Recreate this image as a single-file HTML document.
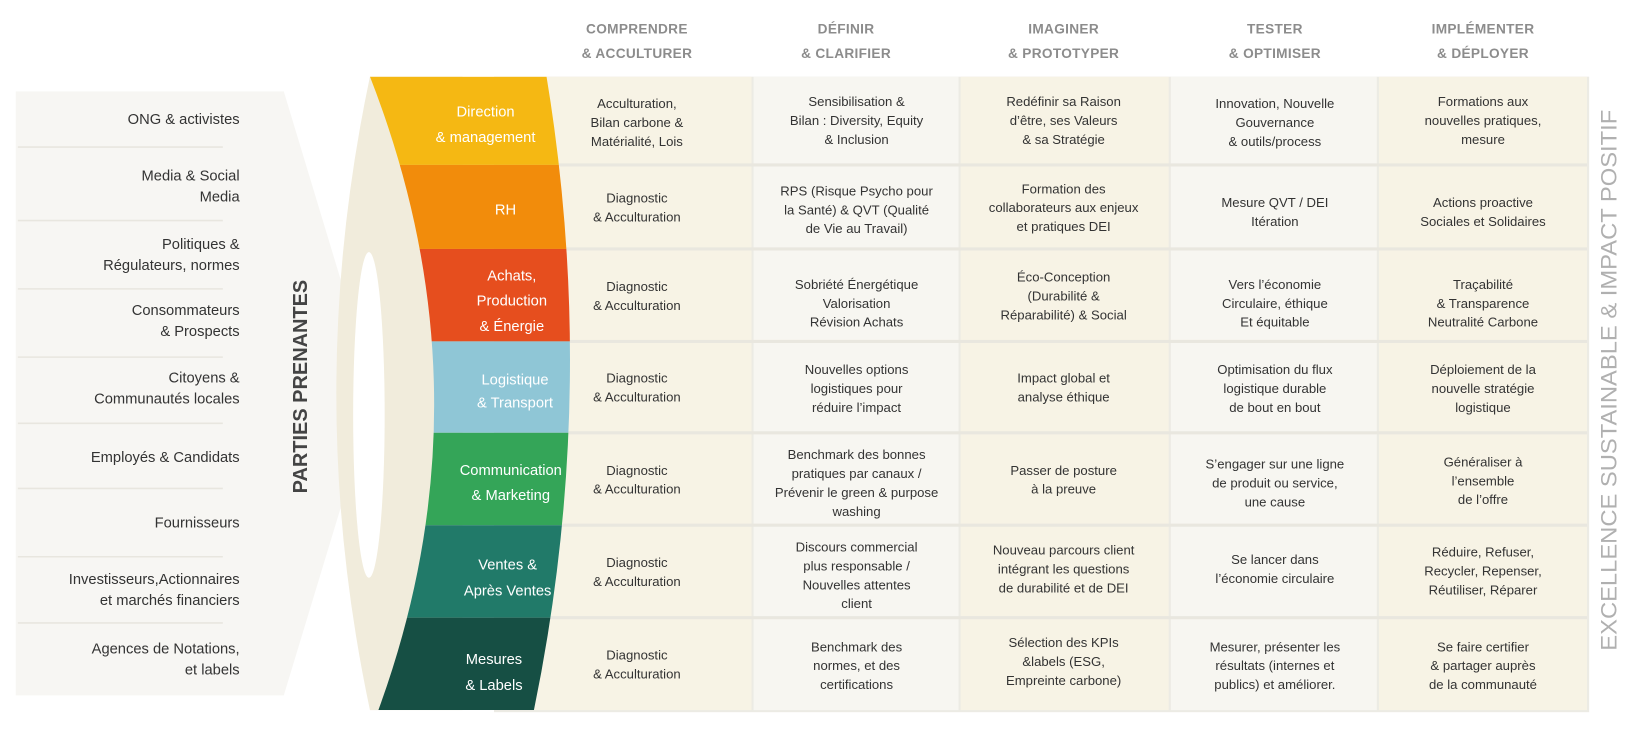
<!DOCTYPE html>
<html><head><meta charset="utf-8"><style>
html,body{margin:0;padding:0;background:#fff;}
svg{display:block}
text{font-family:"Liberation Sans",sans-serif;}
.h{font-size:13px;font-weight:bold;fill:#8c8c8c;text-anchor:middle;letter-spacing:.3px}
.c{font-size:12.5px;fill:#333;text-anchor:middle}
.l{font-size:14px;fill:#333;text-anchor:end}
.b{font-size:14px;fill:#fff;text-anchor:middle}
</style></head><body>
<svg width="1648" height="729" viewBox="0 0 1568 694" preserveAspectRatio="none" xmlns="http://www.w3.org/2000/svg">
<text class="h" x="606" y="32">COMPRENDRE<tspan x="606" dy="23">&amp; ACCULTURER</tspan></text>
<text class="h" x="805" y="32">DÉFINIR<tspan x="805" dy="23">&amp; CLARIFIER</tspan></text>
<text class="h" x="1012" y="32">IMAGINER<tspan x="1012" dy="23">&amp; PROTOTYPER</tspan></text>
<text class="h" x="1213" y="32">TESTER<tspan x="1213" dy="23">&amp; OPTIMISER</tspan></text>
<text class="h" x="1411" y="32">IMPLÉMENTER<tspan x="1411" dy="23">&amp; DÉPLOYER</tspan></text>

<g>
<rect x="470" y="73" width="1042" height="605" fill="#ecebe4"/>
<rect x="470" y="73" width="245" height="603" fill="#f7f3e5"/>
<rect x="717" y="73" width="195" height="603" fill="#f7f6f1"/>
<rect x="914" y="73" width="198" height="603" fill="#f7f3e5"/>
<rect x="1114" y="73" width="196" height="603" fill="#f7f6f1"/>
<rect x="1312" y="73" width="198" height="603" fill="#f7f3e5"/>
<g stroke="#e9e7df" stroke-width="3">
<line x1="470" y1="157" x2="1510" y2="157"/><line x1="470" y1="237" x2="1510" y2="237"/>
<line x1="470" y1="325" x2="1510" y2="325"/><line x1="470" y1="412" x2="1510" y2="412"/>
<line x1="470" y1="500" x2="1510" y2="500"/><line x1="470" y1="588" x2="1510" y2="588"/>
</g>
</g>

<path d="M15,87 L270,87 L357,375 L270,662 L15,662 Z" fill="#f7f6f3"/>
<g stroke="#e8e6df" stroke-width="1.5">
<line x1="17" y1="140" x2="212" y2="140"/><line x1="17" y1="210" x2="212" y2="210"/>
<line x1="17" y1="275" x2="212" y2="275"/><line x1="17" y1="340" x2="212" y2="340"/>
<line x1="17" y1="403" x2="212" y2="403"/><line x1="17" y1="465" x2="212" y2="465"/>
<line x1="17" y1="530" x2="212" y2="530"/><line x1="17" y1="593" x2="212" y2="593"/>
</g>
<text class="l" x="228" y="118">ONG &amp; activistes</text>
<text class="l" x="228" y="172">Media &amp; Social<tspan x="228" dy="20">Media</tspan></text>
<text class="l" x="228" y="237">Politiques &amp;<tspan x="228" dy="20">Régulateurs, normes</tspan></text>
<text class="l" x="228" y="300">Consommateurs<tspan x="228" dy="20">&amp; Prospects</tspan></text>
<text class="l" x="228" y="364">Citoyens &amp;<tspan x="228" dy="20">Communautés locales</tspan></text>
<text class="l" x="228" y="440">Employés &amp; Candidats</text>
<text class="l" x="228" y="502">Fournisseurs</text>
<text class="l" x="228" y="556">Investisseurs,Actionnaires<tspan x="228" dy="20">et marchés financiers</tspan></text>
<text class="l" x="228" y="622">Agences de Notations,<tspan x="228" dy="20">et labels</tspan></text>
<text transform="translate(292,368) rotate(-90)" text-anchor="middle" font-size="19" font-weight="bold" fill="#444" style="font-family:'Liberation Sans',sans-serif">PARTIES PRENANTES</text>

<path d="M352,73 Q288,375 352,676 L440,676 L440,73 Z" fill="#f1ecdc"/>
<ellipse cx="351" cy="395" rx="15" ry="155" fill="#fff"/>

<defs><clipPath id="band"><path d="M352,73 L520,73 Q570,375 508,676 L360,676 Q470,375 352,73 Z"/></clipPath></defs>
<g clip-path="url(#band)">
<rect x="340" y="73" width="250" height="84" fill="#f5b813"/>
<rect x="340" y="157" width="250" height="80" fill="#f28c0b"/>
<rect x="340" y="237" width="250" height="88" fill="#e64e1e"/>
<rect x="340" y="325" width="250" height="87" fill="#8fc6d6"/>
<rect x="340" y="412" width="250" height="88" fill="#34a558"/>
<rect x="340" y="500" width="250" height="88" fill="#217a69"/>
<rect x="340" y="588" width="250" height="88" fill="#164f44"/>
</g>
<text class="b" x="462" y="111">Direction<tspan x="462" dy="24">&amp; management</tspan></text>
<text class="b" x="481" y="204">RH</text>
<text class="b" x="487" y="267">Achats,<tspan x="487" dy="24">Production</tspan><tspan x="487" dy="24">&amp; Énergie</tspan></text>
<text class="b" x="490" y="366">Logistique<tspan x="490" dy="22">&amp; Transport</tspan></text>
<text class="b" x="486" y="452">Communication<tspan x="486" dy="24">&amp; Marketing</tspan></text>
<text class="b" x="483" y="542">Ventes &amp;<tspan x="483" dy="25">Après Ventes</tspan></text>
<text class="b" x="470" y="632">Mesures<tspan x="470" dy="25">&amp; Labels</tspan></text>

<text class="c" x="606" y="103">Acculturation,<tspan x="606" dy="18">Bilan carbone &amp;</tspan><tspan x="606" dy="18">Matérialité, Lois</tspan></text>
<text class="c" x="815" y="101">Sensibilisation &amp;<tspan x="815" dy="18">Bilan : Diversity, Equity</tspan><tspan x="815" dy="18">&amp; Inclusion</tspan></text>
<text class="c" x="1012" y="101">Redéfinir sa Raison<tspan x="1012" dy="18">d’être, ses Valeurs</tspan><tspan x="1012" dy="18">&amp; sa Stratégie</tspan></text>
<text class="c" x="1213" y="103">Innovation, Nouvelle<tspan x="1213" dy="18">Gouvernance</tspan><tspan x="1213" dy="18">&amp; outils/process</tspan></text>
<text class="c" x="1411" y="101">Formations aux<tspan x="1411" dy="18">nouvelles pratiques,</tspan><tspan x="1411" dy="18">mesure</tspan></text>
<text class="c" x="606" y="193">Diagnostic<tspan x="606" dy="18">&amp; Acculturation</tspan></text>
<text class="c" x="815" y="186">RPS (Risque Psycho pour<tspan x="815" dy="18">la Santé) &amp; QVT (Qualité</tspan><tspan x="815" dy="18">de Vie au Travail)</tspan></text>
<text class="c" x="1012" y="184">Formation des<tspan x="1012" dy="18">collaborateurs aux enjeux</tspan><tspan x="1012" dy="18">et pratiques DEI</tspan></text>
<text class="c" x="1213" y="197">Mesure QVT / DEI<tspan x="1213" dy="18">Itération</tspan></text>
<text class="c" x="1411" y="197">Actions proactive<tspan x="1411" dy="18">Sociales et Solidaires</tspan></text>
<text class="c" x="606" y="277">Diagnostic<tspan x="606" dy="18">&amp; Acculturation</tspan></text>
<text class="c" x="815" y="275">Sobriété Énergétique<tspan x="815" dy="18">Valorisation</tspan><tspan x="815" dy="18">Révision Achats</tspan></text>
<text class="c" x="1012" y="268">Éco-Conception<tspan x="1012" dy="18">(Durabilité  &amp;</tspan><tspan x="1012" dy="18">Réparabilité) &amp; Social</tspan></text>
<text class="c" x="1213" y="275">Vers l’économie<tspan x="1213" dy="18">Circulaire, éthique</tspan><tspan x="1213" dy="18">Et équitable</tspan></text>
<text class="c" x="1411" y="275">Traçabilité<tspan x="1411" dy="18">&amp; Transparence</tspan><tspan x="1411" dy="18">Neutralité Carbone</tspan></text>
<text class="c" x="606" y="364">Diagnostic<tspan x="606" dy="18">&amp; Acculturation</tspan></text>
<text class="c" x="815" y="356">Nouvelles options<tspan x="815" dy="18">logistiques pour</tspan><tspan x="815" dy="18">réduire l’impact</tspan></text>
<text class="c" x="1012" y="364">Impact global et<tspan x="1012" dy="18">analyse éthique</tspan></text>
<text class="c" x="1213" y="356">Optimisation du flux<tspan x="1213" dy="18">logistique durable</tspan><tspan x="1213" dy="18">de bout en bout</tspan></text>
<text class="c" x="1411" y="356">Déploiement de la<tspan x="1411" dy="18">nouvelle stratégie</tspan><tspan x="1411" dy="18">logistique</tspan></text>
<text class="c" x="606" y="452">Diagnostic<tspan x="606" dy="18">&amp; Acculturation</tspan></text>
<text class="c" x="815" y="437">Benchmark  des bonnes<tspan x="815" dy="18">pratiques par canaux /</tspan><tspan x="815" dy="18">Prévenir le green &amp; purpose</tspan><tspan x="815" dy="18">washing</tspan></text>
<text class="c" x="1012" y="452">Passer de posture<tspan x="1012" dy="18">à la preuve</tspan></text>
<text class="c" x="1213" y="446">S’engager sur une ligne<tspan x="1213" dy="18">de produit ou service,</tspan><tspan x="1213" dy="18">une cause</tspan></text>
<text class="c" x="1411" y="444">Généraliser à<tspan x="1411" dy="18">l’ensemble</tspan><tspan x="1411" dy="18">de l’offre</tspan></text>
<text class="c" x="606" y="540">Diagnostic<tspan x="606" dy="18">&amp; Acculturation</tspan></text>
<text class="c" x="815" y="525">Discours commercial<tspan x="815" dy="18">plus responsable /</tspan><tspan x="815" dy="18">Nouvelles attentes</tspan><tspan x="815" dy="18">client</tspan></text>
<text class="c" x="1012" y="528">Nouveau parcours client<tspan x="1012" dy="18">intégrant les questions</tspan><tspan x="1012" dy="18">de durabilité et de DEI</tspan></text>
<text class="c" x="1213" y="537">Se lancer dans<tspan x="1213" dy="18">l’économie circulaire</tspan></text>
<text class="c" x="1411" y="530">Réduire, Refuser,<tspan x="1411" dy="18">Recycler, Repenser,</tspan><tspan x="1411" dy="18">Réutiliser, Réparer</tspan></text>
<text class="c" x="606" y="628">Diagnostic<tspan x="606" dy="18">&amp; Acculturation</tspan></text>
<text class="c" x="815" y="620">Benchmark des<tspan x="815" dy="18">normes, et des</tspan><tspan x="815" dy="18">certifications</tspan></text>
<text class="c" x="1012" y="616">Sélection des KPIs<tspan x="1012" dy="18">&amp;labels (ESG,</tspan><tspan x="1012" dy="18">Empreinte carbone)</tspan></text>
<text class="c" x="1213" y="620">Mesurer, présenter les<tspan x="1213" dy="18">résultats (internes et</tspan><tspan x="1213" dy="18">publics) et améliorer.</tspan></text>
<text class="c" x="1411" y="620">Se faire certifier<tspan x="1411" dy="18">&amp; partager auprès</tspan><tspan x="1411" dy="18">de la communauté</tspan></text>

<text transform="translate(1538,362) rotate(-90)" text-anchor="middle" font-size="21" fill="#b0b0b0" style="font-family:'Liberation Sans',sans-serif" textLength="515" lengthAdjust="spacingAndGlyphs">EXCELLENCE  SUSTAINABLE  &amp;  IMPACT POSITIF</text>
</svg>
</body></html>
